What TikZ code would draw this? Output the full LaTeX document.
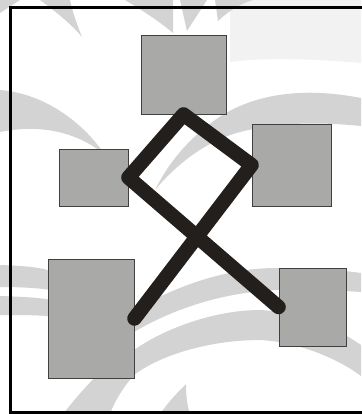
\documentclass[tikz,border=0pt]{standalone}
\usepackage{tikz}
\usetikzlibrary{positioning, calc}

\definecolor{washgray}{RGB}{211,211,211}
\definecolor{palegray}{RGB}{242,242,242}
\definecolor{boxgray}{RGB}{169,169,167}
\definecolor{inkdark}{RGB}{35,31,28}

\begin{document}
\begin{tikzpicture}[
    x=1pt, y=-1pt,
    wash/.style={fill=washgray},
    box/.style={draw=black!75, fill=boxgray, line width=0.9pt, inner sep=0pt},
    frame/.style={line width=3pt, black},
    stroke/.style={draw=inkdark, line width=14.5pt, line cap=round, line join=round}
]
    \useasboundingbox (0,0) rectangle (361,414);
    % background swooshes
    \fill[palegray] (230,0) -- (361,0) -- (361,63) .. controls (300,58) and (260,58) .. (230,62) -- cycle;
    \fill[wash] (0,0) -- (20,0) -- (0,13) -- cycle;
    \fill[wash] (40,0) .. controls (60,15) and (72,25) .. (82,37) .. controls (76,22) and (72,10) .. (70,0) -- cycle;
    \fill[wash] (125,0) .. controls (145,12) and (160,22) .. (173,33) -- (173,0) -- cycle;
    \fill[wash] (180,0) -- (187,31) -- (207,0) -- cycle;
    \fill[wash] (215,0) -- (218,21) .. controls (230,10) and (240,4) .. (253,0) -- cycle;
    \fill[wash] (0,90) .. controls (40,93) and (80,118) .. (105,155) .. controls (85,138) and (50,122) .. (0,132) -- cycle;
    \fill[wash] (361,98) .. controls (300,86) and (250,95) .. (215,120) .. controls (190,138) and (170,160) .. (155,190)
        .. controls (180,160) and (210,140) .. (240,132) .. controls (280,122) and (320,122) .. (361,126) -- cycle;
    \fill[wash] (0,265) .. controls (30,266) and (48,268) .. (60,275) -- (134,310)
        .. controls (170,290) and (220,268) .. (277,268) .. controls (310,268) and (340,270) .. (361,273)
        -- (361,292) .. controls (330,290) and (300,288) .. (277,290) .. controls (230,292) and (180,305) .. (134,332)
        -- (60,292) .. controls (48,289) and (30,287) .. (0,287) -- cycle;
    \fill[wash] (0,296) .. controls (30,297) and (45,298) .. (60,302) -- (60,318) .. controls (45,315) and (30,315) .. (0,315) -- cycle;
    \fill[wash] (63,414) .. controls (90,380) and (110,360) .. (134,350) .. controls (170,325) and (220,310) .. (260,310)
        .. controls (300,312) and (340,330) .. (361,345) -- (361,376) .. controls (340,360) and (300,342) .. (260,340)
        .. controls (210,340) and (160,355) .. (134,375) .. controls (125,385) and (115,400) .. (110,414) -- cycle;
    \fill[wash] (160,414) .. controls (170,400) and (178,392) .. (186,384) .. controls (186,395) and (187,405) .. (190,414) -- cycle;
    % frame
    \draw[frame] (362,8) -- (10.5,8) -- (10.5,412) -- (362,412);
    % boxes
    \node[box, minimum width=85pt, minimum height=79pt] (top) at (183.5,74.5) {};
    \node[box, minimum width=69pt, minimum height=57pt] (lm) at (93.5,177.5) {};
    \node[box, minimum width=79pt, minimum height=82pt] (rm) at (291.5,165) {};
    \node[box, minimum width=86pt, minimum height=119pt] (bl) at (91,318.5) {};
    \node[box, minimum width=67pt, minimum height=78pt] (br) at (312.5,307) {};
    % crossing stroke
    \draw[stroke] (bl.east) -- (rm.west) -- (top.south) -- (lm.east) -- (br.west);
\end{tikzpicture}
\end{document}
